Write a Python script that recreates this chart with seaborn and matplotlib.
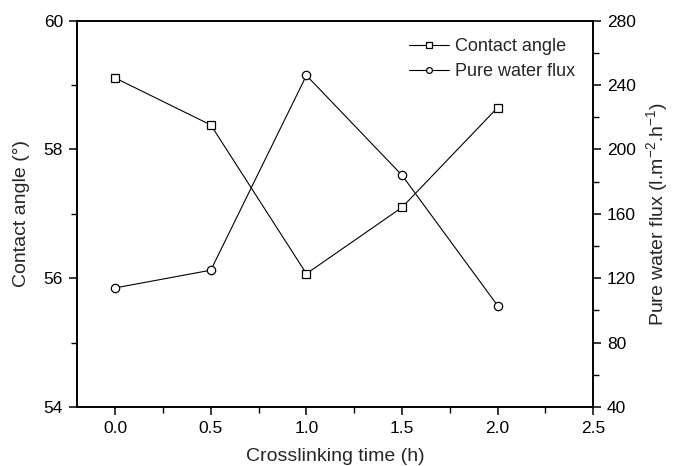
import matplotlib.pyplot as plt
import pandas as pd
import seaborn as sns
from matplotlib.ticker import MultipleLocator

# crosslinking time (h)
time_h = [0.0, 0.5, 1.0, 1.5, 2.0]
contact_angle = [59.11, 58.38, 56.07, 57.10, 58.65]
water_flux = [114, 125, 246, 184, 103]

df = pd.DataFrame({"time": time_h, "angle": contact_angle, "flux": water_flux})

sns.set_style("ticks")
plt.rcParams["font.family"] = ["Liberation Sans", "DejaVu Sans"]
plt.rcParams["mathtext.fontset"] = "custom"
plt.rcParams["mathtext.rm"] = "Liberation Sans"

fig = plt.figure(figsize=(6.73, 4.66), dpi=100)
ax = fig.add_axes([0.1144, 0.1266, 0.767, 0.829])
ax2 = ax.twinx()

style = dict(color="black", linewidth=0.8, markersize=6,
             markerfacecolor="white", markeredgecolor="black", markeredgewidth=0.9)

sns.lineplot(data=df, x="time", y="angle", marker="s", ax=ax, label="Contact angle",
             legend=False, **style)
sns.lineplot(data=df, x="time", y="flux", marker="o", ax=ax2, label="Pure water flux",
             legend=False, **style)

ax.set_xlim(-0.2, 2.5)
ax.set_ylim(54, 60)
ax2.set_ylim(40, 280)

ax.xaxis.set_major_locator(MultipleLocator(0.5))
ax.xaxis.set_minor_locator(MultipleLocator(0.25))
ax.yaxis.set_major_locator(MultipleLocator(2))
ax.yaxis.set_minor_locator(MultipleLocator(1))
ax2.yaxis.set_major_locator(MultipleLocator(40))
ax2.yaxis.set_minor_locator(MultipleLocator(20))
ax.xaxis.set_major_formatter(lambda v, pos: f"{v:.1f}")

for a in (ax, ax2):
    for s in a.spines.values():
        s.set_color("black")
        s.set_linewidth(1.2)
    a.tick_params(which="major", length=6, width=1.1, labelsize=12.5, direction="out",
                  colors="black", pad=4)
    a.tick_params(which="minor", length=4, width=1.0, direction="out", colors="black")

ax.set_xlabel("Crosslinking time (h)", fontsize=14, labelpad=9)
ax.set_ylabel("Contact angle (°)", fontsize=14, labelpad=10)
ax2.set_ylabel(r"Pure water flux (l.m$^{-2}$.h$^{-1}$)", fontsize=14, labelpad=6)

h1, l1 = ax.get_legend_handles_labels()
h2, l2 = ax2.get_legend_handles_labels()
ax2.legend(h1 + h2, l1 + l2, loc="upper left", bbox_to_anchor=(400 / 673, 1 - 29 / 466),
           bbox_transform=fig.transFigure, frameon=False, borderpad=0,
           fontsize=13, handlelength=2.2, handletextpad=0.35, labelspacing=0.45,
           markerscale=0.7)

fig.savefig("out.png", dpi=100)
